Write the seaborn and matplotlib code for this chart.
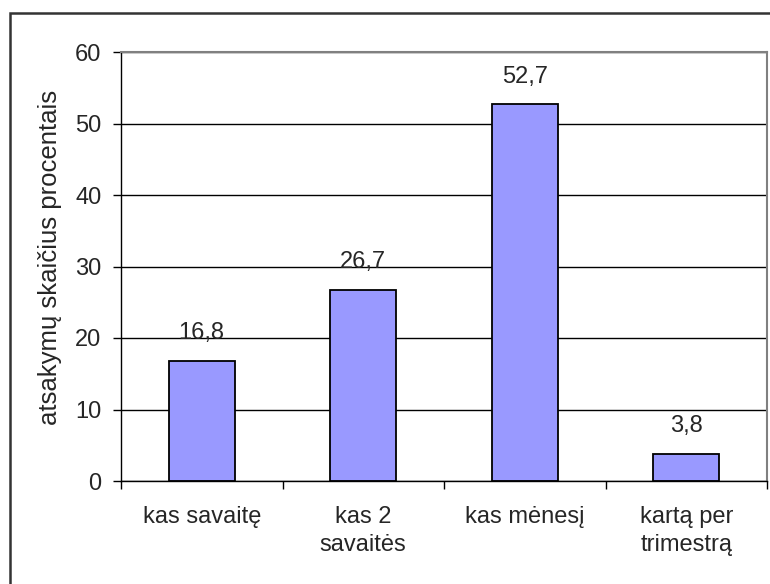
import matplotlib
matplotlib.use("Agg")
import matplotlib.pyplot as plt
from matplotlib.patches import Rectangle
from matplotlib.ticker import FixedLocator
import seaborn as sns
import pandas as pd

categories = ["kas savaitę", "kas 2\nsavaitės", "kas mėnesį", "kartą per\ntrimestrą"]
values = [16.8, 26.7, 52.7, 3.8]
yticks = [0, 10, 20, 30, 40, 50, 60]
ylabel = "atsakymų skaičius procentais"

sns.set_style("white")
plt.rcParams['font.family'] = ['Liberation Sans', 'DejaVu Sans']
FS = 17
plt.rcParams['font.size'] = FS

W, H = 770, 584
fig = plt.figure(figsize=(W / 100, H / 100), dpi=100)
ax = fig.add_axes([121 / W, 1 - 481 / H, (767 - 121) / W, (481 - 52) / H])

df = pd.DataFrame({"cat": categories, "val": values})
sns.barplot(data=df, x="cat", y="val", color="#9999FF", edgecolor="black",
            linewidth=1.3, width=0.41, saturation=1, ax=ax)

ax.set_xlim(-0.5, len(categories) - 0.5)
ax.set_ylim(0, 60)
ax.set_yticks(yticks)
ax.set_yticklabels([str(t) for t in yticks])
ax.yaxis.grid(True, color="black", linewidth=1.0)
ax.set_axisbelow(True)

for s in ["top", "right"]:
    ax.spines[s].set_color("#808080")
    ax.spines[s].set_linewidth(1.5)
for s in ["left", "bottom"]:
    ax.spines[s].set_color("black")
    ax.spines[s].set_linewidth(1.0)

ax.tick_params(axis="y", left=True, length=6, width=1, color="black", pad=8, labelsize=FS)
ax.tick_params(axis="x", which="major", bottom=False, length=0, pad=18, labelsize=FS)
ax.xaxis.set_minor_locator(FixedLocator([i - 0.5 for i in range(len(categories) + 1)]))
ax.tick_params(axis="x", which="minor", bottom=True, length=6, width=1, color="black")
ax.set_xlabel("")
ax.set_ylabel(ylabel, fontsize=18.5)
ax.yaxis.set_label_coords(-0.091, 0.522)

for lbl in ax.get_xticklabels():
    lbl.set_horizontalalignment("center")
    lbl.set_multialignment("center")
    lbl.set_linespacing(1.35)

for i, v in enumerate(values):
    ax.annotate(f"{v:.1f}".replace(".", ","), xy=(i, v), xytext=(0, 12),
                textcoords="offset points", ha="center", va="bottom", fontsize=FS)

fig.patches.append(Rectangle((10 / W, -0.1), 2.0, (584 - 13) / H + 0.1,
                             transform=fig.transFigure, fill=False,
                             edgecolor="#333333", linewidth=1.8))

fig.savefig("out.png", dpi=100)
